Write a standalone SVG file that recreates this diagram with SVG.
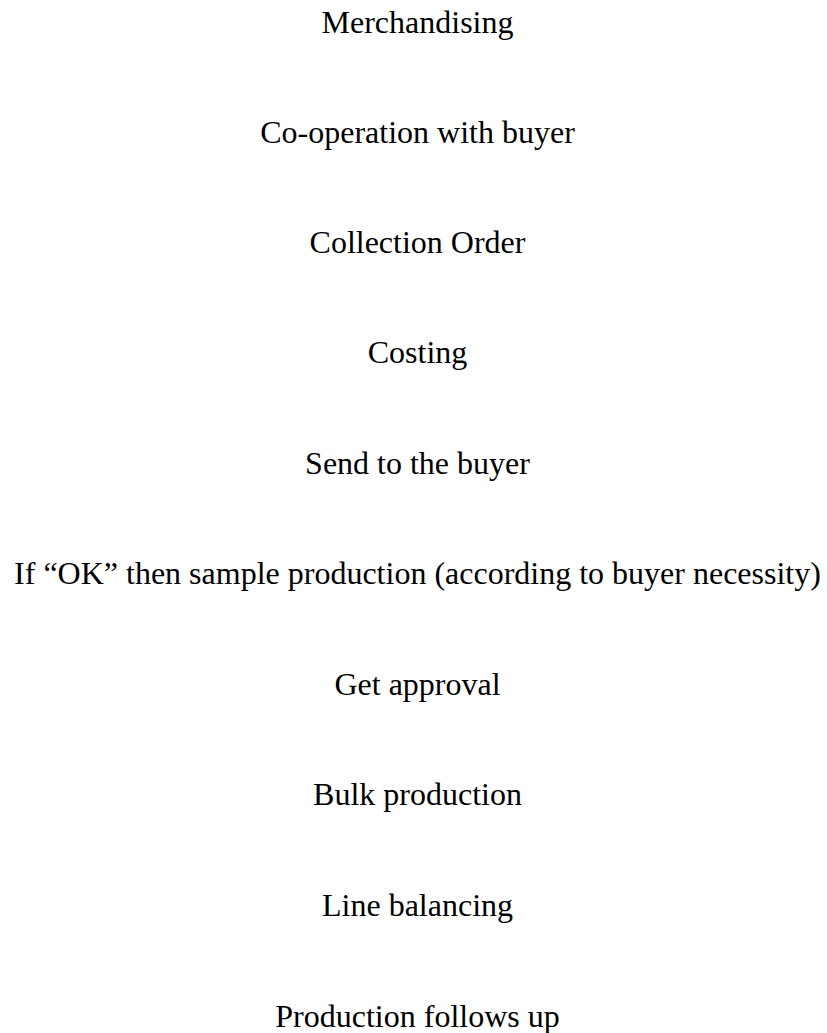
<svg xmlns="http://www.w3.org/2000/svg" width="827" height="1033" viewBox="0 0 827 1033">
  <style>
    .step { font-family: "Liberation Serif", "Times New Roman", serif; font-size: 32px; fill: #000; text-anchor: middle; }
  </style>
  <rect x="0" y="0" width="827" height="1033" fill="#fff"/>
  <!-- process steps, one per line, top to bottom -->
  <g id="step-merchandising"><text class="step" x="417.5" y="33">Merchandising</text></g>
  <g id="step-cooperation"><text class="step" x="417.5" y="143">Co-operation with buyer</text></g>
  <g id="step-collection-order"><text class="step" x="417.5" y="253">Collection Order</text></g>
  <g id="step-costing"><text class="step" x="417.5" y="363">Costing</text></g>
  <g id="step-send-to-buyer"><text class="step" x="417.5" y="474">Send to the buyer</text></g>
  <g id="step-sample-production"><text class="step" x="417.5" y="584">If “OK” then sample production (according to buyer necessity)</text></g>
  <g id="step-get-approval"><text class="step" x="417.5" y="695">Get approval</text></g>
  <g id="step-bulk-production"><text class="step" x="417.5" y="805">Bulk production</text></g>
  <g id="step-line-balancing"><text class="step" x="417.5" y="916">Line balancing</text></g>
  <g id="step-follow-up"><text class="step" x="417.5" y="1027">Production follows up</text></g>
  <g id="connectors"></g>
</svg>
